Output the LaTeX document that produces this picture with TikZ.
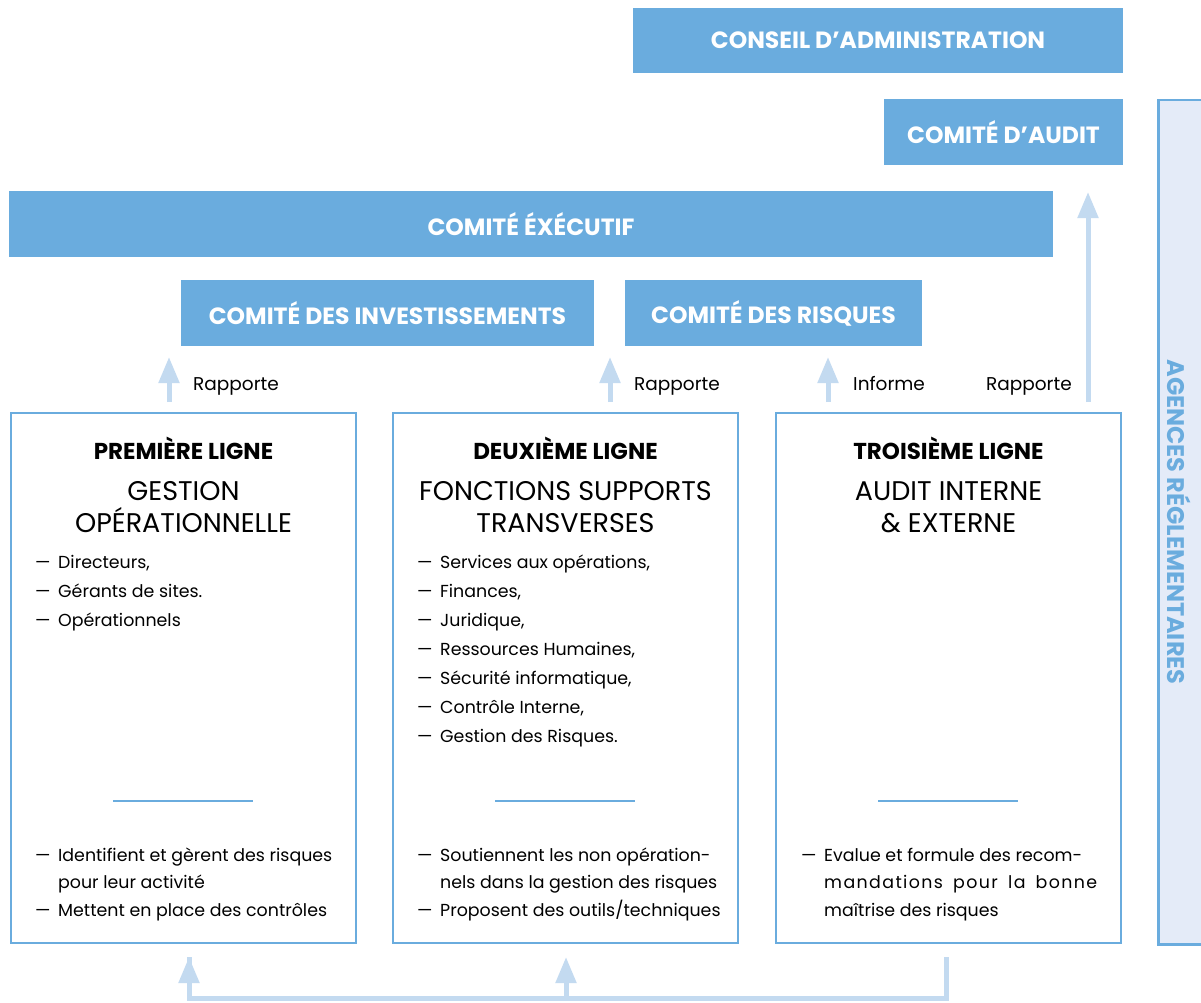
\documentclass[tikz,border=0pt]{standalone}
\usepackage{fontspec}
\setmainfont{Poppins}
\usetikzlibrary{arrows.meta,calc}
\definecolor{hdr}{RGB}{106,172,222}
\definecolor{arr}{RGB}{195,218,240}
\definecolor{agbg}{RGB}{228,235,248}
\newcommand{\dsh}{\makebox[23pt][l]{—}}
\begin{document}
\begin{tikzpicture}[x=1pt,y=-1pt,
  hdrbox/.style={fill=hdr,text=white,inner sep=0pt,font=\fontsize{23.5}{26}\selectfont\bfseries},
  linebox/.style={draw=hdr,line width=2.5pt,fill=white,inner sep=0pt},
  ltitle/.style={font=\fontsize{23}{26}\selectfont\bfseries,inner sep=0pt,anchor=base},
  lsub/.style={font=\fontsize{27}{30}\selectfont,inner sep=0pt,anchor=base},
  item/.style={font=\fontsize{17.4}{20}\selectfont,inner sep=0pt,anchor=base west},
  lbl/.style={font=\fontsize{18.5}{21}\selectfont,inner sep=0pt,anchor=base west},
  sep/.style={draw=hdr,line width=1.5pt},
  upar/.style={draw=arr,line width=5pt,-{Triangle[width=20pt,length=26pt]}},
  conn/.style={draw=arr,line width=5pt}]
\useasboundingbox (0,0) rectangle (1201,1003);
% header boxes
\node[hdrbox,minimum width=490pt,minimum height=65pt] (conseil) at (878,40.5) {CONSEIL D’ADMINISTRATION};
\node[hdrbox,minimum width=239pt,minimum height=66pt] (audit) at (1003.5,132) {COMITÉ D’AUDIT};
\node[hdrbox,minimum width=1044pt,minimum height=66pt] (exec) at (531,224) {COMITÉ ÉXÉCUTIF};
\node[hdrbox,minimum width=413pt,minimum height=66pt] (invest) at (387.5,313) {COMITÉ DES INVESTISSEMENTS};
\node[hdrbox,minimum width=297pt,minimum height=66pt] (risques) at (773.5,313) {COMITÉ DES RISQUES};
% agences
\node[draw=hdr,fill=agbg,line width=2.5pt,inner sep=0pt,minimum width=70pt,minimum height=844pt,anchor=north west] (agences) at (1157,99) {};
\node[rotate=-90,text=hdr,font=\fontsize{24}{27}\selectfont\bfseries,inner sep=0pt] (agtxt) at (1179,522) {AGENCES RÉGLEMENTAIRES};
% line boxes
\node[linebox,minimum width=345pt,minimum height=530pt] (l1) at (183.5,678) {};
\node[linebox,minimum width=345pt,minimum height=530pt] (l2) at (565.5,678) {};
\node[linebox,minimum width=345pt,minimum height=530pt] (l3) at (948.5,678) {};
% titles
\node[ltitle] (t1) at (183.5,459) {PREMIÈRE LIGNE};
\node[ltitle] (t2) at (565.5,459) {DEUXIÈME LIGNE};
\node[ltitle] (t3) at (948.5,459) {TROISIÈME LIGNE};
\node[lsub] (s1a) at (183.5,500) {GESTION};
\node[lsub] (s1b) at (183.5,532) {OPÉRATIONNELLE};
\node[lsub] (s2a) at (565.5,500) {FONCTIONS SUPPORTS};
\node[lsub] (s2b) at (565.5,532) {TRANSVERSES};
\node[lsub] (s3a) at (948.5,500) {AUDIT INTERNE};
\node[lsub] (s3b) at (948.5,532) {\&\ EXTERNE};
% lists
\foreach \t [count=\i] in {{Directeurs,},{Gérants de sites.},{Opérationnels}}
  \node[item] (a\i) at (35,{568+29*(\i-1)}) {\dsh\t};
\foreach \t [count=\i] in {{Services aux opérations,},{Finances,},{Juridique,},{Ressources Humaines,},{Sécurité informatique,},{Contrôle Interne,},{Gestion des Risques.}}
  \node[item] (b\i) at (417,{568+29*(\i-1)}) {\dsh\t};
% separators
\draw[sep] (113,801) -- (253,801);
\draw[sep] (495,801) -- (635,801);
\draw[sep] (878,801) -- (1018,801);
% bottom texts
\node[item] (c1) at (35,861) {\dsh Identifient et gèrent des risques};
\node[item] (c2) at (35,888) {\hphantom{\dsh}pour leur activité};
\node[item] (c3) at (35,916) {\dsh Mettent en place des contrôles};
\node[item] (d1) at (417,861) {\dsh Soutiennent les non opération-};
\node[item] (d2) at (417,888) {\hphantom{\dsh}nels dans la gestion des risques};
\node[item] (d3) at (417,916) {\dsh Proposent des outils/techniques};
\node[item] (e1) at (801,861) {\dsh Evalue et formule des recom-};
\node[item] (e2) at (801,888) {\hphantom{\dsh}{\addfontfeature{LetterSpace=8}\makebox[273pt][s]{mandations pour la bonne}}};
\node[item] (e3) at (801,916) {\hphantom{\dsh}maîtrise des risques};
% up arrows
\coordinate (p1) at (169,402); \coordinate (q1) at (169,357);
\coordinate (p2) at (610,402); \coordinate (q2) at (610,357);
\coordinate (p3) at (828,402); \coordinate (q3) at (828,357);
\coordinate (p4) at (1088,402); \coordinate (q4) at (1088,192);
\draw[upar] (p1) -- (q1);
\draw[upar] (p2) -- (q2);
\draw[upar] (p3) -- (q3);
\draw[upar] (p4) -- (q4);
\node[lbl] (r1) at (193,390) {Rapporte};
\node[lbl] (r2) at (634,390) {Rapporte};
\node[lbl] (r3) at (853,390) {Informe};
\node[lbl,anchor=base east] (r4) at (1072,390) {Rapporte};
% bottom connector
\coordinate (b3) at (946,957);
\coordinate (bc3) at (946,998);
\coordinate (bc1) at (189,998);
\coordinate (bt1) at (189,957);
\coordinate (bc2) at (566,998);
\coordinate (bt2) at (566,957);
\draw[conn,line join=miter] (b3) -- (bc3) -- (bc1) -- (bt1);
\draw[upar] (bc1) -- (bt1);
\draw[upar] (bc2) -- (bt2);
\end{tikzpicture}
\end{document}
